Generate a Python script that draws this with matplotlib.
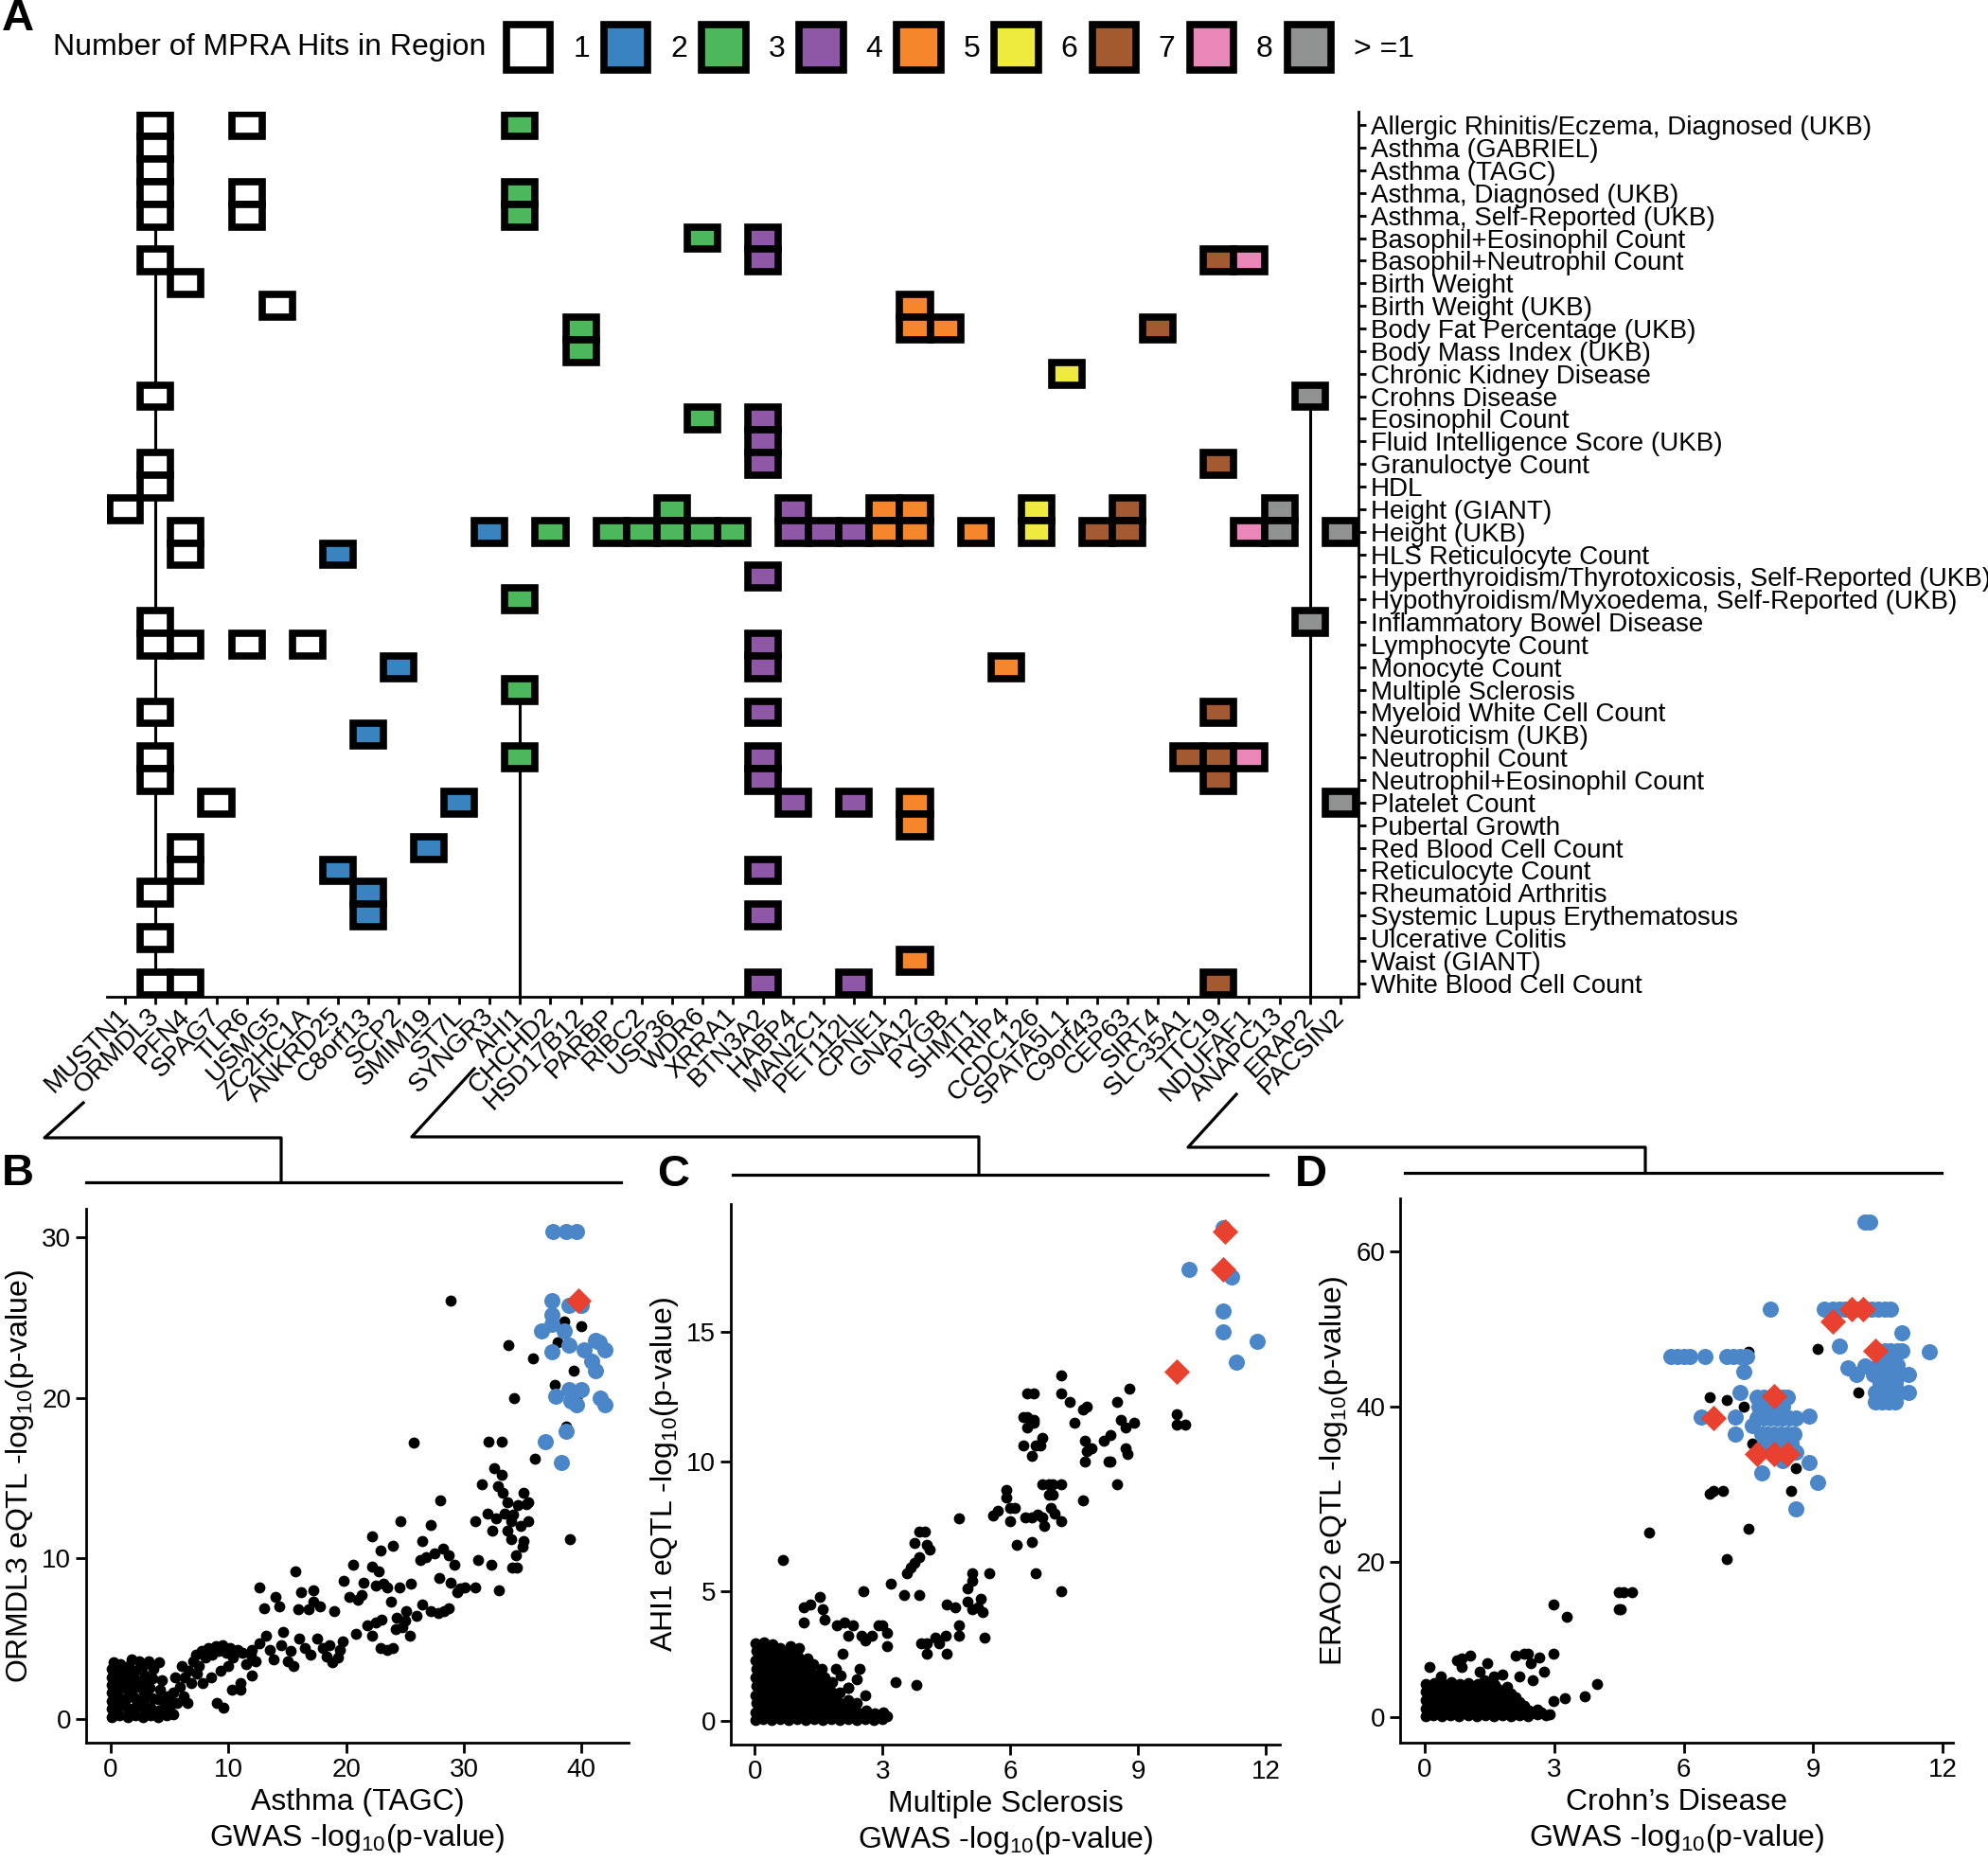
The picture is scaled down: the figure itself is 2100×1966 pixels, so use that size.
import matplotlib.pyplot as plt
from matplotlib.patches import Patch
from matplotlib.lines import Line2D

plt.rcParams['font.family'] = ['Liberation Sans', 'DejaVu Sans']
plt.rcParams['mathtext.fontset'] = 'custom'
plt.rcParams['mathtext.rm'] = 'Liberation Sans'

# ---------------- panel A data ----------------
traits = ['Allergic Rhinitis/Eczema, Diagnosed (UKB)', 'Asthma (GABRIEL)', 'Asthma (TAGC)',
          'Asthma, Diagnosed (UKB)', 'Asthma, Self-Reported (UKB)', 'Basophil+Eosinophil Count',
          'Basophil+Neutrophil Count', 'Birth Weight', 'Birth Weight (UKB)',
          'Body Fat Percentage (UKB)', 'Body Mass Index (UKB)', 'Chronic Kidney Disease',
          'Crohns Disease', 'Eosinophil Count', 'Fluid Intelligence Score (UKB)',
          'Granuloctye Count', 'HDL', 'Height (GIANT)', 'Height (UKB)', 'HLS Reticulocyte Count',
          'Hyperthyroidism/Thyrotoxicosis, Self-Reported (UKB)',
          'Hypothyroidism/Myxoedema, Self-Reported (UKB)', 'Inflammatory Bowel Disease',
          'Lymphocyte Count', 'Monocyte Count', 'Multiple Sclerosis', 'Myeloid White Cell Count',
          'Neuroticism (UKB)', 'Neutrophil Count', 'Neutrophil+Eosinophil Count',
          'Platelet Count', 'Pubertal Growth', 'Red Blood Cell Count', 'Reticulocyte Count',
          'Rheumatoid Arthritis', 'Systemic Lupus Erythematosus', 'Ulcerative Colitis',
          'Waist (GIANT)', 'White Blood Cell Count']

genes = ['MUSTN1', 'ORMDL3', 'PFN4', 'SPAG7', 'TLR6', 'USMG5', 'ZC2HC1A', 'ANKRD25',
         'C8orf13', 'SCP2', 'SMIM19', 'ST7L', 'SYNGR3', 'AHI1', 'CHCHD2', 'HSD17B12',
         'PARBP', 'RIBC2', 'USP36', 'WDR6', 'XRRA1', 'BTN3A2', 'HABP4', 'MAN2C1', 'PET112L',
         'CPNE1', 'GNA12', 'PYGB', 'SHMT1', 'TRIP4', 'CCDC126', 'SPATA5L1', 'C9orf43',
         'CEP63', 'SIRT4', 'SLC35A1', 'TTC19', 'NDUFAF1', 'ANAPC13', 'ERAP2', 'PACSIN2']

# number of MPRA hits in region, one per gene
gene_hits = ['1', '1', '1', '1', '1', '1', '1', '2', '2', '2', '2', '2', '2',
             '3', '3', '3', '3', '3', '3', '3', '3', '4', '4', '4', '4',
             '5', '5', '5', '5', '5', '6', '6', '7', '7', '7', '7', '7', '8',
             '> =1', '> =1', '> =1']

# trait rows (1-based, in trait order) in which each gene appears
gene_rows = [
    [18],
    [1, 2, 3, 4, 5, 7, 13, 16, 17, 23, 24, 27, 29, 30, 35, 37, 39],
    [8, 19, 20, 24, 33, 34, 39],
    [31],
    [1, 4, 5, 24],
    [9],
    [24],
    [20, 34],
    [28, 35, 36],
    [25],
    [33],
    [31],
    [19],
    [1, 4, 5, 22, 26, 29],
    [19],
    [10, 11],
    [19],
    [19],
    [18, 19],
    [6, 14, 19],
    [19],
    [6, 7, 14, 15, 16, 21, 24, 25, 27, 29, 30, 34, 36, 39],
    [18, 19, 31],
    [19],
    [19, 31, 39],
    [18, 19],
    [9, 10, 18, 19, 31, 32, 38],
    [10],
    [19],
    [25],
    [18, 19],
    [12],
    [19],
    [18, 19],
    [10],
    [29],
    [7, 16, 27, 29, 30, 39],
    [7, 19, 29],
    [18, 19],
    [13, 23],
    [19, 31],
]

hit_levels = ['1', '2', '3', '4', '5', '6', '7', '8', '> =1']
hit_colors = ['#FFFFFF', '#3A83C1', '#4CB85B', '#8E58A6', '#F5862B', '#EFEA3E',
              '#A35A31', '#EA87B8', '#909292']

# gene / trait pairs carried into panels B, C, D
focus_genes = ['ORMDL3', 'AHI1', 'ERAP2']
focus_traits = ['Asthma (TAGC)', 'Multiple Sclerosis', 'Crohns Disease']

# ---------------- panel B data ----------------
b_black = [
    (0.1, 0.1), (0.1, 0.6), (0.1, 1.1), (0.1, 1.6), (0.1, 2.1), (0.1, 2.6), (0.1, 3.1), (0.2, 3.5),
    (0.7, 0.2), (0.7, 0.8), (0.8, 1.3), (0.7, 1.9), (0.8, 2.4), (0.7, 2.9), (0.8, 3.4),
    (1.4, 0.1), (1.4, 0.6), (1.3, 1.2), (1.5, 1.7), (1.4, 2.2), (1.3, 2.8), (1.5, 3.3), (1.8, 3.7),
    (2.1, 0.2), (2.0, 0.7), (2.1, 1.3), (2.0, 1.9), (2.2, 2.4), (2.1, 3.0), (2.4, 3.6),
    (2.7, 0.1), (2.8, 0.6), (2.7, 1.1), (2.8, 1.7), (2.6, 2.2), (2.9, 2.7), (2.7, 3.3), (3.2, 3.6),
    (3.4, 0.2), (3.4, 0.7), (3.5, 1.3), (3.3, 1.9), (3.5, 2.5), (3.6, 3.1), (4.1, 3.5),
    (4.0, 0.1), (4.1, 0.5), (4.0, 1.2), (4.2, 1.8), (4.3, 2.4),
    (4.7, 0.2), (5.0, 0.6), (4.8, 1.4), (5.3, 0.3),
    (0.4, 0.4), (0.4, 1.4), (0.4, 2.4), (1.1, 0.9), (1.1, 1.9), (1.1, 2.9), (1.8, 0.4),
    (1.8, 1.5), (1.8, 2.6), (2.4, 0.9), (2.4, 2.0), (3.1, 0.4), (3.0, 1.5), (3.1, 2.3),
    (4.6, 0.9), (5.0, 1.2), (5.3, 1.6), (5.6, 1.0), (5.9, 2.0), (6.2, 1.4), (6.3, 2.6),
    (6.6, 3.0), (6.8, 2.2), (7.0, 3.6), (7.2, 4.0), (7.5, 3.3), (7.7, 4.2), (8.0, 3.8),
    (8.3, 4.4), (8.6, 4.0), (8.9, 4.5), (9.2, 4.2), (9.5, 4.6), (9.8, 4.1), (10.1, 4.4),
    (10.4, 3.8), (10.8, 4.3), (11.2, 4.1), (11.5, 3.4), (11.9, 4.0), (12.3, 3.6), (12.6, 4.7),
    (9.0, 1.0), (9.6, 0.7), (10.3, 1.8), (11.0, 2.2), (12.0, 4.3), (10.0, 3.3), (8.5, 2.6),
    (7.8, 2.2), (6.5, 1.0), (5.5, 2.6), (6.0, 3.3), (7.3, 2.8), (9.3, 3.0),
    (12.6, 8.2), (13.2, 5.2), (13.5, 4.3), (13.8, 3.7), (14.0, 7.6), (14.5, 4.6), (14.6, 5.4),
    (15.0, 3.6), (15.3, 4.2), (15.7, 9.2), (15.9, 6.8), (16.2, 7.9), (16.5, 4.4), (16.8, 6.8),
    (17.2, 7.3), (17.2, 8.0), (17.5, 5.0), (17.8, 7.0), (18.0, 4.4), (18.3, 3.9), (18.6, 4.6),
    (19.0, 6.7), (19.3, 3.8), (19.5, 4.3), (19.8, 8.6), (19.7, 4.8), (18.8, 3.5), (13.0, 6.9),
    (14.3, 7.0), (16.0, 5.0), (17.0, 4.0), (15.5, 3.3), (12.0, 2.7), (11.0, 1.8),
    (20.3, 7.6), (20.6, 9.6), (21.0, 7.4), (21.3, 7.7), (21.5, 8.5), (22.2, 9.5), (22.2, 11.4),
    (22.5, 8.3), (22.8, 9.2), (22.9, 10.5), (23.2, 8.4), (23.5, 8.2), (23.8, 7.3), (24.0, 10.8),
    (24.6, 12.3), (24.5, 8.2), (25.1, 6.7), (25.5, 8.4), (25.7, 17.2), (26.0, 6.4), (26.3, 9.9),
    (26.5, 11.1), (26.8, 10.1), (27.2, 12.1), (27.5, 10.3), (27.9, 8.8), (28.2, 10.6),
    (28.7, 10.2), (28.9, 8.5), (29.4, 7.9), (29.2, 9.6), (29.7, 8.1), (28.3, 6.7), (27.2, 6.7),
    (26.5, 7.1), (25.4, 5.2), (24.8, 5.7), (24.0, 4.4), (23.5, 4.3), (22.9, 4.4), (22.2, 5.2),
    (22.5, 6.0), (23.0, 6.2), (24.3, 6.3), (25.0, 6.1), (27.8, 6.6), (28.7, 6.9), (28.0, 13.6),
    (28.9, 26.1), (21.8, 5.8), (20.8, 5.3), (24.2, 5.6),
    (30.1, 8.2), (31.0, 12.3), (31.2, 9.9), (31.0, 8.2), (31.5, 14.6), (32.0, 12.8), (32.1, 17.3),
    (32.3, 9.6), (32.4, 11.7), (32.6, 15.6), (32.9, 14.5), (33.0, 8.0), (33.2, 17.3), (33.2, 15.2),
    (33.3, 14.1), (33.5, 12.8), (33.7, 11.7), (33.7, 13.5), (34.0, 12.3), (34.1, 9.4), (34.2, 12.7),
    (34.4, 10.2), (34.6, 13.3), (34.8, 12.0), (35.0, 10.7), (35.1, 11.1), (35.1, 14.1),
    (35.3, 13.4), (35.5, 12.3), (35.5, 13.5), (34.0, 11.2), (33.8, 23.3), (34.3, 20.0),
    (36.0, 16.2), (35.9, 22.5), (34.5, 9.4), (32.7, 12.5),
    (37.7, 20.8), (38.7, 18.2), (39.3, 21.7), (39.6, 20.0), (39.0, 11.2), (38.0, 23.5),
    (40.0, 24.5), (38.5, 24.8),
]
b_blue = [
    (37.6, 30.4), (38.7, 30.4), (39.6, 30.4), (37.5, 26.1), (37.5, 25.2), (37.5, 24.6),
    (36.6, 24.2), (38.5, 24.2), (37.5, 22.9), (38.9, 25.8), (40.0, 25.8), (38.9, 23.3),
    (40.2, 23.0), (41.5, 23.5), (42.0, 23.0), (41.2, 23.6), (40.9, 22.3), (41.2, 21.7),
    (37.8, 20.1), (38.9, 20.5), (40.0, 20.5), (39.1, 19.8), (39.6, 19.6), (41.6, 20.0),
    (42.0, 19.6), (36.9, 17.3), (38.7, 17.9), (38.3, 16.0),
]
b_red = [(39.7, 26.1)]

# ---------------- panel C data ----------------
c_black = [
    (0.02, 0.05), (0.02, 0.35), (0.03, 0.7), (0.02, 1.0), (0.03, 1.35), (0.02, 1.7), (0.03, 2.0),
    (0.02, 2.35), (0.03, 2.7), (0.02, 3.0),
    (0.2, 0.1), (0.21, 0.4), (0.19, 0.75), (0.2, 1.05), (0.22, 1.4), (0.2, 1.7), (0.19, 2.05),
    (0.21, 2.4), (0.2, 2.75), (0.22, 3.05),
    (0.4, 0.05), (0.41, 0.35), (0.39, 0.7), (0.4, 1.0), (0.42, 1.3), (0.4, 1.65), (0.39, 2.0),
    (0.41, 2.3), (0.4, 2.6), (0.42, 2.95),
    (0.6, 0.1), (0.61, 0.4), (0.59, 0.7), (0.6, 1.05), (0.62, 1.4), (0.6, 1.75), (0.59, 2.1),
    (0.61, 2.45), (0.6, 2.8),
    (0.8, 0.05), (0.81, 0.35), (0.79, 0.7), (0.8, 1.0), (0.82, 1.35), (0.8, 1.7), (0.79, 2.0),
    (0.81, 2.35), (0.8, 2.7), (0.84, 2.9),
    (1.0, 0.1), (1.01, 0.45), (0.99, 0.8), (1.0, 1.1), (1.02, 1.45), (1.0, 1.8), (0.99, 2.15),
    (1.01, 2.5), (1.05, 2.8),
    (1.2, 0.05), (1.21, 0.35), (1.19, 0.7), (1.2, 1.05), (1.22, 1.4), (1.2, 1.75), (1.19, 2.1),
    (1.23, 2.4),
    (1.4, 0.1), (1.41, 0.4), (1.39, 0.75), (1.4, 1.1), (1.42, 1.45), (1.4, 1.8), (1.38, 2.2),
    (1.6, 0.05), (1.61, 0.35), (1.59, 0.7), (1.6, 1.0), (1.62, 1.35), (1.6, 1.7), (1.57, 2.0),
    (1.8, 0.1), (1.81, 0.45), (1.79, 0.8), (1.8, 1.15), (1.82, 1.5),
    (2.0, 0.05), (2.01, 0.35), (1.99, 0.7), (2.0, 1.1), (2.02, 1.75),
    (2.2, 0.1), (2.21, 0.4), (2.19, 0.8), (2.2, 1.3),
    (2.4, 0.05), (2.41, 0.35), (2.39, 0.7),
    (2.6, 0.1), (2.61, 0.4), (2.59, 1.0),
    (2.8, 0.05), (2.81, 0.3), (3.0, 0.1), (3.02, 0.35), (3.1, 0.2),
    (0.1, 0.2), (0.1, 0.55), (0.1, 0.9), (0.1, 1.2), (0.1, 1.55), (0.1, 1.9), (0.1, 2.2),
    (0.1, 2.55), (0.1, 2.9),
    (0.3, 0.25), (0.3, 0.55), (0.3, 0.9), (0.3, 1.25), (0.3, 1.55), (0.3, 1.9), (0.3, 2.25),
    (0.3, 2.6), (0.3, 2.9),
    (0.5, 0.2), (0.5, 0.5), (0.5, 0.85), (0.5, 1.2), (0.5, 1.5), (0.5, 1.85), (0.5, 2.15),
    (0.5, 2.45), (0.5, 2.8),
    (0.7, 0.25), (0.7, 0.55), (0.7, 0.9), (0.7, 1.2), (0.7, 1.55), (0.7, 1.9), (0.7, 2.25),
    (0.7, 2.6),
    (0.9, 0.2), (0.9, 0.6), (0.9, 0.95), (0.9, 1.25), (0.9, 1.6), (0.9, 1.95), (0.9, 2.3),
    (0.9, 2.6),
    (1.1, 0.25), (1.1, 0.6), (1.1, 0.9), (1.1, 1.25), (1.1, 1.6), (1.1, 1.95), (1.1, 2.3),
    (1.3, 0.2), (1.3, 0.55), (1.3, 0.9), (1.3, 1.25), (1.3, 1.6), (1.3, 1.9),
    (1.5, 0.25), (1.5, 0.55), (1.5, 0.9), (1.5, 1.2), (1.5, 1.55),
    (1.7, 0.2), (1.7, 0.6), (1.7, 0.95), (1.7, 1.3),
    (1.9, 0.25), (1.9, 0.6), (1.9, 0.95), (2.1, 0.25), (2.1, 0.6), (2.3, 0.2), (2.3, 0.55),
    (2.5, 0.2), (2.7, 0.2), (2.9, 0.2),
    (0.66, 6.2), (1.16, 4.4), (1.3, 4.5), (1.54, 4.8), (1.59, 4.3), (1.64, 3.9), (1.16, 3.8),
    (1.93, 3.7), (2.1, 3.8), (2.3, 3.7), (2.2, 3.3), (2.5, 3.3), (2.6, 3.1), (2.75, 3.3),
    (2.9, 3.7), (3.0, 3.7), (3.1, 3.4), (3.1, 2.9), (2.55, 5.0), (3.2, 5.3), (2.07, 2.6),
    (2.46, 2.0), (3.3, 1.5), (3.8, 1.4), (1.64, 1.7), (1.9, 2.0), (2.2, 1.3), (2.4, 1.6),
    (3.5, 4.85), (3.87, 4.85), (3.57, 5.7), (3.66, 5.9), (3.76, 6.1), (3.86, 6.3), (3.76, 6.85),
    (3.86, 7.3), (4.0, 7.3), (4.05, 6.8), (4.1, 6.6), (3.9, 3.0), (4.05, 3.0), (4.24, 3.2),
    (4.34, 3.0), (4.48, 3.3), (4.05, 2.6), (4.5, 2.6), (4.5, 4.5), (4.7, 4.4), (4.8, 3.7),
    (4.8, 3.3), (4.8, 7.8), (5.0, 5.1), (5.1, 5.4), (5.1, 5.7), (5.0, 4.6), (5.1, 4.3),
    (5.25, 4.4), (5.3, 4.7), (5.35, 4.2), (5.4, 3.2), (5.5, 5.7), (5.6, 7.9), (5.7, 8.1),
    (5.9, 8.9), (5.9, 8.6), (6.0, 8.2), (6.1, 8.2), (6.0, 7.7), (6.15, 6.8), (6.3, 11.7),
    (6.4, 11.7), (6.55, 11.6), (6.3, 10.6), (6.4, 11.3), (6.4, 12.6), (6.55, 12.6),
    (6.36, 7.85), (6.5, 7.85), (6.65, 7.95), (6.75, 7.85), (6.5, 6.9), (6.6, 5.7), (6.6, 10.6),
    (6.7, 10.6), (6.75, 10.9), (6.5, 10.2), (6.55, 11.5), (6.8, 7.5), (6.75, 9.1), (6.9, 9.1),
    (7.0, 9.1), (7.2, 9.1), (6.9, 8.7), (7.0, 8.7), (6.95, 8.2), (7.05, 8.0), (7.2, 7.7),
    (7.2, 12.6), (7.2, 13.3), (7.2, 5.0), (7.4, 12.3), (7.5, 11.5), (7.7, 12.0), (7.8, 12.1),
    (7.75, 10.8), (7.8, 10.4), (7.75, 10.0), (7.9, 10.5), (7.7, 8.5), (8.2, 10.8), (8.3, 10.0),
    (8.35, 10.0), (8.35, 11.0), (8.5, 12.3), (8.6, 11.6), (8.7, 11.3), (8.9, 11.5), (8.7, 10.5),
    (8.75, 10.3), (8.8, 12.8), (8.5, 9.1), (9.9, 11.8), (9.9, 11.4), (10.1, 11.4),
]
c_blue = [(10.2, 17.4), (11.0, 17.4), (11.2, 17.1), (11.0, 15.8), (11.0, 15.0), (11.8, 14.6),
          (11.3, 13.8), (11.0, 19.0)]
c_red = [(11.04, 18.85), (11.0, 17.4), (9.9, 13.45)]

# ---------------- panel D data ----------------
d_black = [
    (0.02, 0.1), (0.02, 1.1), (0.03, 2.2), (0.02, 3.3), (0.03, 4.3),
    (0.2, 0.2), (0.21, 1.2), (0.19, 2.3), (0.2, 3.4), (0.22, 4.4),
    (0.4, 0.1), (0.41, 1.1), (0.39, 2.2), (0.4, 3.2), (0.42, 4.2),
    (0.6, 0.2), (0.61, 1.2), (0.59, 2.3), (0.6, 3.4), (0.62, 4.5),
    (0.8, 0.1), (0.81, 1.1), (0.79, 2.2), (0.8, 3.3), (0.82, 4.3),
    (1.0, 0.2), (1.01, 1.2), (0.99, 2.3), (1.0, 3.4), (1.02, 4.4),
    (1.2, 0.1), (1.21, 1.1), (1.19, 2.2), (1.2, 3.3), (1.22, 4.2),
    (1.4, 0.2), (1.41, 1.2), (1.39, 2.3), (1.4, 3.4), (1.42, 4.3),
    (1.6, 0.1), (1.61, 1.1), (1.59, 2.2), (1.6, 3.3), (1.62, 4.1),
    (1.8, 0.2), (1.81, 1.2), (1.79, 2.3), (1.8, 3.2),
    (2.0, 0.1), (2.01, 1.1), (1.99, 2.1), (2.0, 3.0),
    (2.2, 0.2), (2.21, 1.2), (2.19, 2.0), (2.4, 0.1), (2.41, 0.9), (2.6, 0.3), (2.62, 1.0),
    (2.8, 0.2), (2.9, 0.4),
    (0.1, 0.65), (0.3, 0.65), (0.5, 0.6), (0.7, 0.65), (0.9, 0.7), (1.1, 0.65), (1.3, 0.6),
    (1.5, 0.65), (1.7, 0.7), (1.9, 0.65), (2.1, 0.6), (2.3, 0.65), (2.5, 0.6), (2.7, 0.65),
    (0.1, 1.7), (0.3, 1.75), (0.5, 1.7), (0.7, 1.65), (0.9, 1.7), (1.1, 1.75), (1.3, 1.7),
    (1.5, 1.65), (1.7, 1.7), (1.9, 1.75), (2.1, 1.6), (2.3, 1.5),
    (0.1, 2.75), (0.3, 2.8), (0.5, 2.75), (0.7, 2.7), (0.9, 2.8), (1.1, 2.75), (1.3, 2.8),
    (1.5, 2.7), (1.7, 2.75), (1.9, 2.6), (2.1, 2.5),
    (0.1, 3.85), (0.3, 3.9), (0.5, 3.8), (0.7, 3.85), (0.9, 3.9), (1.1, 3.8), (1.3, 3.85),
    (1.5, 3.75), (1.7, 3.7),
    (0.1, 6.4), (0.37, 5.2), (0.43, 4.2), (0.74, 7.3), (0.85, 7.6), (1.06, 7.9), (0.85, 6.4),
    (1.28, 5.8), (1.38, 4.8), (1.44, 7.0), (1.6, 5.2), (1.8, 5.5), (1.9, 3.9), (2.1, 7.9),
    (2.3, 8.2), (2.4, 8.2), (2.45, 7.0), (2.2, 5.2), (2.5, 4.8), (2.77, 5.8), (2.66, 7.7),
    (2.98, 8.2), (2.98, 2.1), (3.24, 2.4), (3.7, 2.7), (4.0, 4.2), (2.98, 14.5), (3.3, 12.9),
    (4.5, 16.1), (4.6, 16.1), (4.8, 16.1), (4.5, 13.9), (4.55, 13.9), (5.2, 23.8),
    (6.6, 28.8), (6.7, 29.1), (6.9, 29.1), (6.6, 41.2), (7.0, 40.8), (7.0, 20.4), (7.4, 40.0),
    (7.5, 24.2), (7.5, 47.0), (7.6, 35.2), (8.5, 29.1), (8.6, 32.1), (9.1, 47.4), (10.05, 41.8),
]
d_blue = [
    (5.7, 46.5), (5.85, 46.5), (6.0, 46.5), (6.15, 46.5), (6.5, 46.5), (7.0, 46.5), (7.15, 46.5),
    (7.3, 46.5), (7.45, 46.5), (8.0, 52.5), (7.4, 44.5), (7.3, 41.8),
    (7.7, 41.2), (7.85, 41.2), (8.0, 41.2), (8.15, 41.2), (8.3, 41.2), (8.4, 41.2),
    (6.4, 38.6), (7.2, 38.6),
    (7.7, 38.5), (7.85, 38.5), (8.0, 38.5), (8.15, 38.5), (8.3, 38.5), (8.45, 38.5), (8.6, 38.5),
    (7.2, 36.5), (8.9, 38.8),
    (7.8, 36.5), (7.95, 36.5), (8.1, 36.5), (8.25, 36.5), (8.4, 36.5), (8.55, 36.5),
    (7.9, 35.2), (8.05, 35.2), (8.2, 35.2), (8.5, 35.2),
    (7.75, 40.0), (7.9, 40.0), (8.1, 40.0), (8.3, 40.0),
    (8.6, 34.1), (8.9, 32.8), (7.8, 31.4), (9.1, 30.2), (8.6, 26.8), (8.3, 33.0), (7.6, 37.5),
    (9.25, 52.5), (9.45, 52.5), (9.6, 52.5), (9.75, 52.5), (10.0, 52.5), (10.2, 52.5),
    (10.35, 52.5), (10.5, 52.5), (10.65, 52.5), (10.8, 52.5),
    (10.2, 63.8), (10.3, 63.8), (11.06, 49.5), (9.6, 47.8), (11.7, 47.1),
    (10.5, 47.2), (10.65, 47.2), (10.8, 47.2), (10.95, 47.2), (11.05, 47.2),
    (9.8, 45.0), (10.0, 44.1), (10.2, 45.2),
    (10.4, 44.1), (10.55, 44.1), (10.7, 44.1), (10.85, 44.1), (11.0, 44.1), (11.2, 44.1),
    (10.5, 45.3), (10.65, 45.3), (10.8, 45.3), (10.95, 45.3),
    (10.45, 41.8), (10.6, 41.8), (10.75, 41.8), (10.9, 41.8), (11.0, 41.8), (11.2, 41.8),
    (10.45, 40.6), (10.6, 40.6), (10.75, 40.6), (10.9, 40.6), (10.55, 43.0), (10.9, 43.0),
]
d_red = [(6.7, 38.5), (8.1, 41.3), (7.7, 33.9), (8.1, 33.9), (8.4, 33.9), (9.45, 51.0),
         (9.9, 52.5), (10.15, 52.5), (10.45, 47.2)]

# ---------------- figure ----------------
W, H = 2100, 1966
fig = plt.figure(figsize=(21, 19.66), dpi=100)


def fx(px):
    return px / W


def fy(py):
    return 1 - py / H


# panel A grid
axA = fig.add_axes([fx(113), fy(1053), fx(1435) - fx(113), fy(118) - fy(1053)])
row_of = {t: i + 1 for i, t in enumerate(traits)}
col_of = {g: i + 1 for i, g in enumerate(genes)}

for g, t in zip(focus_genes, focus_traits):
    axA.vlines(col_of[g], row_of[t], 39.6, color='black', lw=2.2, zorder=2)

for i, g in enumerate(genes):
    rows = gene_rows[i]
    c = hit_colors[hit_levels.index(gene_hits[i])]
    axA.bar([i + 1] * len(rows), [1.0] * len(rows), bottom=[r - 0.5 for r in rows],
            width=1.0, color=c, edgecolor='black', linewidth=5.5, zorder=3)

axA.set_xlim(0.4, 41.6)
axA.set_ylim(39.6, 0.4)
axA.set_xticks(range(1, len(genes) + 1))
axA.set_xticklabels(genes, rotation=45, ha='right', va='center', rotation_mode='anchor')
axA.set_yticks(range(1, len(traits) + 1))
axA.set_yticklabels(traits)
axA.yaxis.tick_right()
for s in ['top', 'left']:
    axA.spines[s].set_visible(False)
for s in ['bottom', 'right']:
    axA.spines[s].set_linewidth(2)
axA.tick_params(axis='x', length=6, width=2, labelsize=20, pad=6)
axA.tick_params(axis='y', length=6, width=2, labelsize=20, pad=3)

# legend row
fig.text(fx(56), fy(50), 'Number of MPRA Hits in Region', fontsize=23, va='center', ha='left')
handles = [Patch(facecolor=c, edgecolor='black', linewidth=5.5) for c in hit_colors]
fig.legend(handles, hit_levels, loc='center left', bbox_to_anchor=(fx(535), fy(50)), ncol=9,
           frameon=False, fontsize=23, handlelength=1.45, handleheight=1.95,
           handletextpad=0.75, columnspacing=0.47, borderpad=0, borderaxespad=0)


# scatter panels
def scatter_panel(rect, black, blue, red, xlim, ylim, xticks, yticks, xlabel, ylabel):
    ax = fig.add_axes(rect)
    ax.scatter(*zip(*black), s=72, color='black', linewidths=0, zorder=2)
    ax.scatter(*zip(*blue), s=150, color='#4A86C8', linewidths=0, zorder=3)
    ax.scatter(*zip(*red), s=190, marker='D', color='#E8412F', linewidths=0, zorder=4)
    ax.set_xlim(*xlim)
    ax.set_ylim(*ylim)
    ax.set_xticks(xticks)
    ax.set_yticks(yticks)
    ax.set_xlabel(xlabel, fontsize=23, linespacing=1.25)
    ax.set_ylabel(ylabel, fontsize=23)
    for s in ['top', 'right']:
        ax.spines[s].set_visible(False)
    for s in ['bottom', 'left']:
        ax.spines[s].set_linewidth(2)
    ax.tick_params(length=8, width=2, labelsize=20)
    return ax


scatter_panel([fx(91), fy(1841), fx(664) - fx(91), fy(1277) - fy(1841)],
              b_black, b_blue, b_red, (-2.1, 44), (-1.5, 31.8), [0, 10, 20, 30, 40],
              [0, 10, 20, 30], 'Asthma (TAGC)\nGWAS -log$_{10}$(p-value)',
              'ORMDL3 eQTL -log$_{10}$(p-value)')
scatter_panel([fx(772), fy(1843), fx(1352) - fx(772), fy(1272) - fy(1843)],
              c_black, c_blue, c_red, (-0.56, 12.33), (-0.9, 19.9), [0, 3, 6, 9, 12],
              [0, 5, 10, 15], 'Multiple Sclerosis\nGWAS -log$_{10}$(p-value)',
              'AHI1 eQTL -log$_{10}$(p-value)')
scatter_panel([fx(1479), fy(1841), fx(2063) - fx(1479), fy(1266) - fy(1841)],
              d_black, d_blue, d_red, (-0.57, 12.24), (-3.3, 66.8), [0, 3, 6, 9, 12],
              [0, 20, 40, 60], 'Crohn\u2019s Disease\nGWAS -log$_{10}$(p-value)',
              'ERAO2 eQTL -log$_{10}$(p-value)')

# connector brackets from gene labels to panels
brackets = [
    [(88, 1165), (47, 1202), (297, 1202), (297, 1249)],
    [(91, 1249), (656, 1249)],
    [(501, 1129), (435, 1201), (1034, 1201), (1034, 1241)],
    [(774, 1241), (1339, 1241)],
    [(1306, 1156), (1255, 1212), (1738, 1212), (1738, 1239)],
    [(1484, 1239), (2051, 1239)],
]
for pts in brackets:
    fig.add_artist(Line2D([fx(p[0]) for p in pts], [fy(p[1]) for p in pts],
                          color='black', lw=2.3, transform=fig.transFigure))

# panel letters
for letter, x, y in [('A', 2, 20), ('B', 2, 1240), ('C', 694, 1241), ('D', 1368, 1241)]:
    fig.text(fx(x), fy(y), letter, fontsize=34, fontweight='bold', va='center', ha='left')

fig.savefig('out.png', dpi=100)
